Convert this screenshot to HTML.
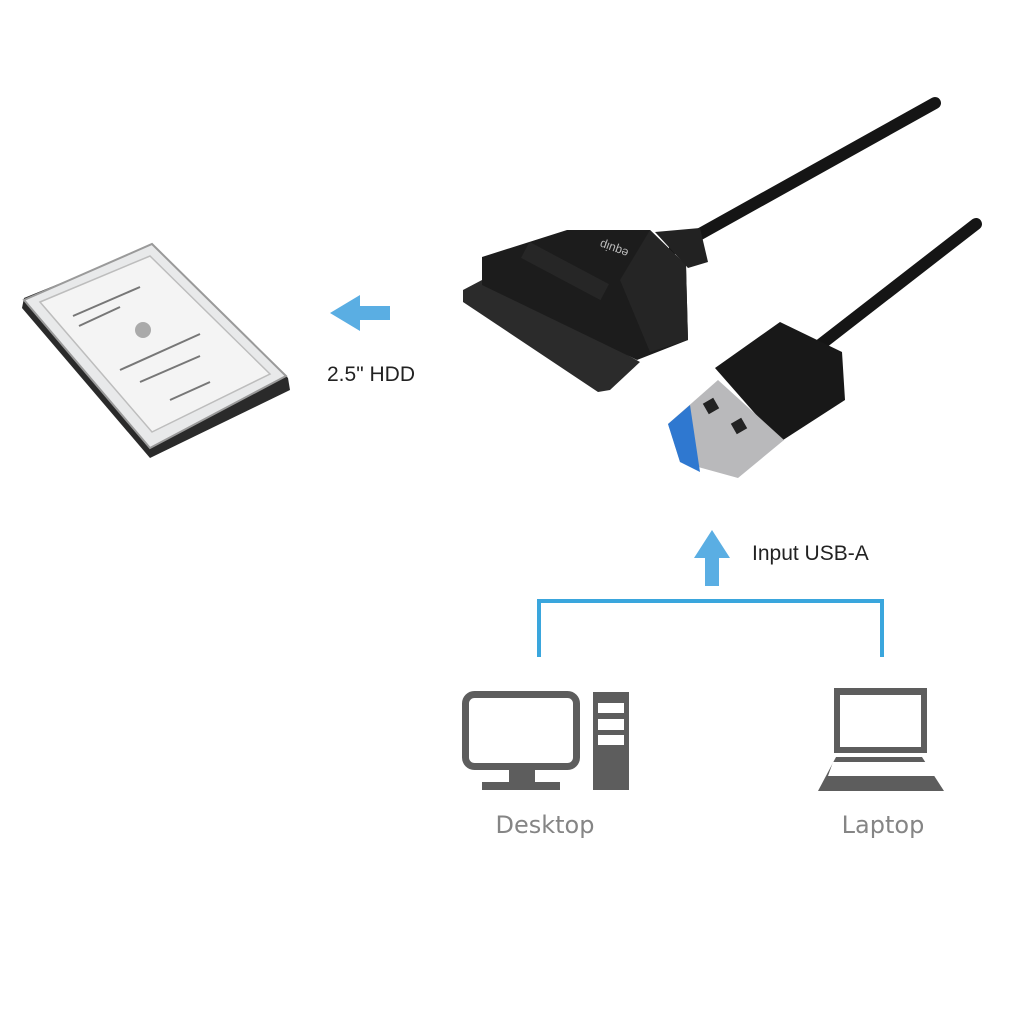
<!DOCTYPE html>
<html><head><style>
html,body{margin:0;padding:0;background:#fff;}
svg{display:block;}
</style></head><body>
<svg width="1024" height="1024" viewBox="0 0 1024 1024" xmlns="http://www.w3.org/2000/svg">
<rect width="1024" height="1024" fill="#fff"/>
<!-- HDD -->
<polygon points="22,308 150,458 290,390 288,378 152,246 24,298" fill="#2a2a2a"/>
<polygon points="24,300 152,244 286,376 150,448" fill="#e8e9ea" stroke="#9a9a9a" stroke-width="2"/>
<polygon points="40,302 150,256 270,374 152,432" fill="#f4f4f4" stroke="#bdbdbd" stroke-width="1.5"/>
<circle cx="143" cy="330" r="8" fill="#aaa"/>
<g stroke="#777" stroke-width="2">
<line x1="73" y1="316" x2="140" y2="287"/><line x1="79" y1="326" x2="120" y2="307"/>
<line x1="120" y1="370" x2="200" y2="334"/><line x1="140" y1="382" x2="200" y2="356"/>
<line x1="170" y1="400" x2="210" y2="382"/>
</g>
<!-- left arrow -->
<polygon points="330,313 360,295 360,306 390,306 390,320 360,320 360,331" fill="#5aaee3"/>
<text x="327" y="381" font-family="Liberation Sans, sans-serif" font-size="21" fill="#222">2.5" HDD</text>
<!-- cables -->
<line x1="675" y1="248" x2="935" y2="103" stroke="#151515" stroke-width="12" stroke-linecap="round"/>
<line x1="820" y1="345" x2="976" y2="224" stroke="#151515" stroke-width="12" stroke-linecap="round"/>
<!-- adapter -->
<polygon points="463,290 482,280 600,340 640,362 610,390 598,392 463,302" fill="#2b2b2b"/>
<polygon points="482,257 567,230 650,230 686,265 688,340 637,360 600,342 482,285" fill="#1c1c1c"/>
<polygon points="650,230 686,265 688,340 650,352 620,280" fill="#252525"/>
<polygon points="655,232 700,228 708,262 688,268" fill="#222"/>
<rect x="520" y="262" width="90" height="18" fill="#262626" transform="rotate(28 565 271)"/>
<text x="600" y="245" font-family="Liberation Sans, sans-serif" font-size="12" fill="#bbb" transform="rotate(200 615 245)">equip</text>
<!-- USB plug -->
<polygon points="715,368 780,322 842,352 845,400 780,442" fill="#181818"/>
<polygon points="668,424 718,380 784,440 738,478 680,462" fill="#b9b9bb"/>
<polygon points="668,424 690,405 700,472 680,462" fill="#2f78d0"/>
<rect x="705" y="400" width="12" height="12" fill="#222" transform="rotate(-30 711 406)"/>
<rect x="733" y="420" width="12" height="12" fill="#222" transform="rotate(-30 739 426)"/>
<!-- up arrow -->
<polygon points="712,530 694,558 705,558 705,586 719,586 719,558 730,558" fill="#5aaee3"/>
<text x="752" y="560" font-family="Liberation Sans, sans-serif" font-size="21" fill="#222">Input USB-A</text>
<!-- bracket -->
<polyline points="539,657 539,601 882,601 882,657" fill="none" stroke="#3aa6dd" stroke-width="4"/>
<!-- desktop -->
<rect x="465.5" y="694.5" width="111" height="72" rx="9" fill="none" stroke="#5d5d5d" stroke-width="7"/>
<rect x="509" y="770" width="26" height="13" fill="#5d5d5d"/>
<rect x="482" y="782" width="78" height="8" fill="#5d5d5d"/>
<rect x="593" y="692" width="36" height="98" fill="#5d5d5d"/>
<rect x="598" y="703" width="26" height="10" fill="#fff"/>
<rect x="598" y="719" width="26" height="11" fill="#fff"/>
<rect x="598" y="735" width="26" height="10" fill="#fff"/>
<!-- laptop -->
<rect x="834" y="688" width="93" height="65" fill="#5d5d5d"/>
<rect x="840" y="695" width="81" height="52" fill="#fff"/>
<polygon points="836,757 922,757 944,791 818,791" fill="#5d5d5d"/>
<polygon points="833,762 926,762 935,776 828,776" fill="#fff"/>
<text x="545" y="833" text-anchor="middle" font-family="DejaVu Sans, Liberation Sans, sans-serif" font-size="24" fill="#858585">Desktop</text>
<text x="883" y="833" text-anchor="middle" font-family="DejaVu Sans, Liberation Sans, sans-serif" font-size="24" fill="#858585">Laptop</text>
</svg>
</body></html>
